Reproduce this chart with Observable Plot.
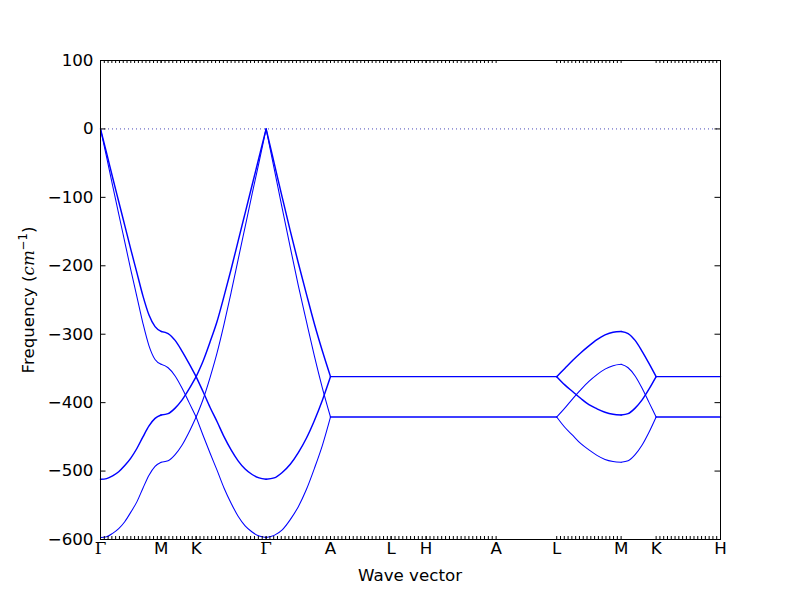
<!DOCTYPE html>
<html><head><meta charset="utf-8">
<script src="https://cdn.jsdelivr.net/npm/d3@7"></script>
<script src="https://cdn.jsdelivr.net/npm/@observablehq/plot@0.6"></script>
<style>
body{margin:0;background:#fff;}
#chart{width:800px;height:600px;}
</style></head><body><div id="chart"></div>
<script>
// High-symmetry path: labels and their positions along the path
const labels   = ["Γ", "M", "K", "Γ", "A", "L", "H", "A", "L", "M", "K", "H"];
const labelPos = [0, 60.62, 95.62, 165.62, 230.0, 290.62, 325.62, 395.62, 456.22, 520.62, 555.62, 620];
const yTicks   = [-600, -500, -400, -300, -200, -100, 0, 100];

// Γ–M (offsets from Γ)
const gmOff = [0, 6.06, 12.12, 18.19, 24.25, 30.31, 36.37, 42.43, 48.5, 54.56, 60.62];
const gmA = [0, -35, -71, -106, -141, -176, -210, -244, -272, -289, -296];
const gmB = [0, -41, -83, -124, -165, -206, -245, -284, -317, -337, -344];
const gmC = [-512, -511, -507, -501, -492, -481, -467, -450, -434, -423, -418];
const gmD = [-597, -596, -591, -584, -574, -560, -545, -525, -506, -493, -487];

// M–K (offsets from M)
const mkOff = [0, 7, 14, 21, 28, 35];
const mkA = [-296, -299, -309, -325, -343, -362];
const mkB = [-344, -349, -361, -379, -400, -421];
const mkC = [-418, -416, -408, -396, -380, -362];
const mkD = [-487, -485, -476, -462, -443, -421];

// K–Γ (offsets from K)
const kgOff = [0, 7, 14, 21, 28, 35, 42, 49, 56, 63, 70];
const kgA = [-362, -384, -407, -428, -450, -469, -485, -497, -505, -510, -512];
const kgB = [-421, -448, -474, -499, -525, -547, -566, -580, -589, -595, -597];
const kgC = [-362, -339, -311, -281, -244, -205, -164, -123, -82, -41, 0];
const kgD = [-421, -395, -363, -327, -285, -239, -191, -143, -95, -48, 0];

// Γ–A (offsets from Γ)
const gaOff = [0, 8.05, 16.1, 24.15, 32.2, 40.25, 48.3, 56.35, 64.38];
const gaA = [-512, -510, -502, -490, -473, -452, -426, -396, -362];
const gaB = [-597, -594, -586, -571, -552, -527, -496, -462, -421];
const gaC = [0, -50, -100, -149, -196, -241, -285, -325, -362];
const gaD = [0, -58, -116, -173, -229, -281, -332, -379, -421];

// L–M (offsets from L)
const lmOff = [0, 8.05, 16.1, 24.15, 32.2, 40.25, 48.3, 56.35, 64.4];
const lmA = [-362, -350, -338, -327, -317, -308, -301, -297, -296];
const lmB = [-421, -408, -394, -381, -369, -359, -351, -346, -344];
const lmC = [-362, -374, -384, -394, -403, -409, -414, -417, -418];
const lmD = [-421, -436, -448, -460, -469, -477, -483, -486, -487];

// Flat branches (A–L–H–A–L and K–H)
const flatUpper = -362;
const flatLower = -421;

// Segments that carry the small tick marks (indices into labelPos)
const tickSegments = [[0,1],[1,2],[2,3],[3,4],[4,5],[5,6],[6,7],[8,9],[10,11]];

const rows = [];
function add(seg, base, offs, band, ys, thick) {
  offs.forEach((o, i) => rows.push({x: base + o, y: ys[i], key: seg + band, thick}));
}
add("gm", labelPos[0], gmOff, "A", gmA, true);
add("gm", labelPos[0], gmOff, "C", gmC, true);
add("gm", labelPos[0], gmOff, "B", gmB, false);
add("gm", labelPos[0], gmOff, "D", gmD, false);
add("mk1", labelPos[1], mkOff, "A", mkA, true);
add("mk1", labelPos[1], mkOff, "C", mkC, true);
add("mk1", labelPos[1], mkOff, "B", mkB, false);
add("mk1", labelPos[1], mkOff, "D", mkD, false);
add("kg", labelPos[2], kgOff, "A", kgA, true);
add("kg", labelPos[2], kgOff, "C", kgC, true);
add("kg", labelPos[2], kgOff, "B", kgB, false);
add("kg", labelPos[2], kgOff, "D", kgD, false);
add("ga", labelPos[3], gaOff, "A", gaA, true);
add("ga", labelPos[3], gaOff, "C", gaC, true);
add("ga", labelPos[3], gaOff, "B", gaB, false);
add("ga", labelPos[3], gaOff, "D", gaD, false);
add("f1", 0, [labelPos[4], labelPos[8]], "U", [flatUpper, flatUpper], true);
add("f1", 0, [labelPos[4], labelPos[8]], "L", [flatLower, flatLower], true);
add("lm", labelPos[8], lmOff, "A", lmA, true);
add("lm", labelPos[8], lmOff, "C", lmC, true);
add("lm", labelPos[8], lmOff, "B", lmB, false);
add("lm", labelPos[8], lmOff, "D", lmD, false);
add("mk2", labelPos[9], mkOff, "A", mkA, true);
add("mk2", labelPos[9], mkOff, "C", mkC, true);
add("mk2", labelPos[9], mkOff, "B", mkB, false);
add("mk2", labelPos[9], mkOff, "D", mkD, false);
add("f2", 0, [labelPos[10], labelPos[11]], "U", [flatUpper, flatUpper], true);
add("f2", 0, [labelPos[10], labelPos[11]], "L", [flatLower, flatLower], true);

const minorTicks = tickSegments.flatMap(([i, j]) => {
  const a = labelPos[i], b = labelPos[j], n = Math.round((b - a) / 3.8);
  return d3.range(n + 1).map(k => a + (b - a) * k / n);
});

const W = 800, H = 600, mL = 100, mR = 80, mT = 60, mB = 61;
const xDom = [0, 620], yDom = [-600, 100];
const ux = (xDom[1] - xDom[0]) / (W - mL - mR);   // data units per pixel (x)
const uy = (yDom[1] - yDom[0]) / (H - mT - mB);   // data units per pixel (y)
const minorLen = 3, majorLen = 5.5;

const labelRows = labels.map((t, i) => ({t, x: labelPos[i], serif: t === "Γ"}));
const fmt = d => d < 0 ? "\u2212" + Math.abs(d) : String(d);

const chart = Plot.plot({
  width: W, height: H,
  marginLeft: mL, marginRight: mR, marginTop: mT, marginBottom: mB,
  x: {domain: xDom, axis: null},
  y: {domain: yDom},
  style: {fontFamily: "DejaVu Sans", fontSize: "16.7px", color: "black", background: "white"},
  marks: [
    Plot.ruleY([0], {stroke: "#4848b8", strokeDasharray: "1,3", strokeWidth: 1}),
    Plot.line(rows.filter(d => d.thick), {x: "x", y: "y", z: "key", curve: "monotone-x", stroke: "#0000ff", strokeWidth: 1.45}),
    Plot.line(rows.filter(d => !d.thick), {x: "x", y: "y", z: "key", curve: "monotone-x", stroke: "#0000ff", strokeWidth: 1.05}),
    // inward tick marks
    Plot.ruleX(minorTicks, {x: d => d, y1: yDom[0], y2: yDom[0] + minorLen * uy, stroke: "black"}),
    Plot.ruleX(minorTicks, {x: d => d, y1: yDom[1], y2: yDom[1] - minorLen * uy, stroke: "black"}),
    Plot.ruleY(yTicks, {y: d => d, x1: xDom[0], x2: xDom[0] + majorLen * ux, stroke: "black"}),
    Plot.ruleY(yTicks, {y: d => d, x1: xDom[1], x2: xDom[1] - majorLen * ux, stroke: "black"}),
    Plot.frame({stroke: "black", strokeWidth: 1}),
    Plot.axisY(yTicks, {anchor: "left", tickSize: 0, tickPadding: 7, tickFormat: fmt, label: null}),
    Plot.text(labelRows.filter(d => !d.serif), {x: "x", text: "t", frameAnchor: "bottom", dy: 14, fill: "black", fontSize: 16.7}),
    Plot.text(labelRows.filter(d => d.serif), {x: "x", text: "t", frameAnchor: "bottom", dy: 14, fill: "black", fontSize: 16.7, fontFamily: "DejaVu Serif"})
  ]
});
document.getElementById("chart").appendChild(chart);

const svg = d3.select(chart);
svg.append("text").attr("x", 410).attr("y", 581).attr("text-anchor", "middle")
  .attr("font-family", "DejaVu Sans").attr("font-size", "16.7px").attr("fill", "black").text("Wave vector");
const yl = svg.append("text").attr("transform", "translate(34,300) rotate(-90)").attr("text-anchor", "middle")
  .attr("font-family", "DejaVu Sans").attr("font-size", "16.7px").attr("fill", "black");
yl.append("tspan").text("Frequency (");
yl.append("tspan").attr("font-family", "DejaVu Serif").attr("font-style", "italic").text("cm");
yl.append("tspan").attr("font-size", "11.7px").attr("dy", -7).text("\u22121");
yl.append("tspan").attr("dy", 7).text(")");
</script>
</body></html>
